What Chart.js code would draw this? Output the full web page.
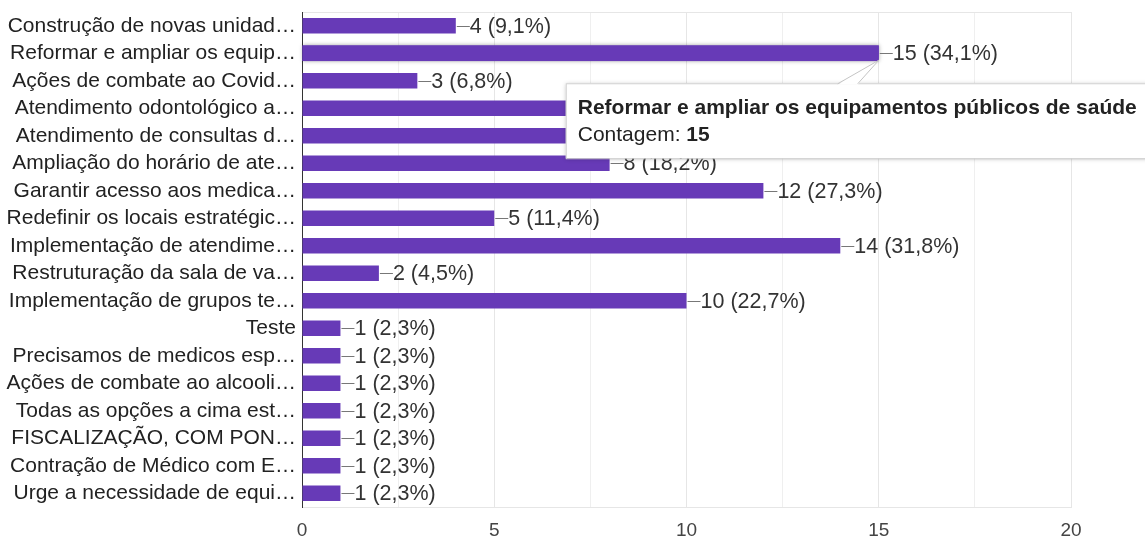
<!DOCTYPE html>
<html>
<head>
<meta charset="utf-8">
<script src="https://cdn.jsdelivr.net/npm/chart.js@4.4.1/dist/chart.umd.min.js"></script>
<style>
  html, body { margin: 0; padding: 0; background: #fff; }
  #wrap { width: 1145px; height: 539px; position: relative; }
</style>
</head>
<body>
<div id="wrap"><canvas id="chart"></canvas></div>
<script>
// ===== Data =====
const labels = [
    'Construção de novas unidad…',
    'Reformar e ampliar os equip…',
    'Ações de combate ao Covid…',
    'Atendimento odontológico a…',
    'Atendimento de consultas d…',
    'Ampliação do horário de ate…',
    'Garantir acesso aos medica…',
    'Redefinir os locais estratégic…',
    'Implementação de atendime…',
    'Restruturação da sala de va…',
    'Implementação de grupos te…',
    'Teste',
    'Precisamos de medicos esp…',
    'Ações de combate ao alcooli…',
    'Todas as opções a cima est…',
    'FISCALIZAÇÃO, COM PON…',
    'Contração de Médico com E…',
    'Urge a necessidade de equi…'
];
const counts = [4, 15, 3, 10, 9, 8, 12, 5, 14, 2, 10, 1, 1, 1, 1, 1, 1, 1];
const pcts = ['9,1', '34,1', '6,8', '22,7', '20,5', '18,2', '27,3', '11,4', '31,8', '4,5', '22,7',
              '2,3', '2,3', '2,3', '2,3', '2,3', '2,3', '2,3'];
const xTicks = [0, 5, 10, 15, 20];

const hoverIndex = 1;
const hoverTitle = 'Reformar e ampliar os equipamentos públicos de saúde';
const hoverLabel = 'Contagem: ';

const FONT = '"Liberation Sans", Arial, sans-serif';
const PURPLE = '#673ab7';

// value labels "—4 (9,1%)" at the end of each bar
const valueLabels = {
    id: 'valueLabels',
    afterDatasetsDraw(chart) {
        const ctx = chart.ctx;
        const meta = chart.getDatasetMeta(0);
        ctx.save();
        ctx.font = '21.5px ' + FONT;
        ctx.textBaseline = 'middle';
        meta.data.forEach((bar, i) => {
            ctx.strokeStyle = '#777';
            ctx.lineWidth = 1;
            ctx.beginPath();
            ctx.moveTo(bar.x + 1, Math.round(bar.y) + 0.5);
            ctx.lineTo(bar.x + 14, Math.round(bar.y) + 0.5);
            ctx.stroke();
            ctx.fillStyle = '#333';
            ctx.fillText(`${counts[i]} (${pcts[i]}%)`, bar.x + 14, bar.y + 1);
        });
        ctx.restore();
    }
};

// fixed hover card like the Google Forms summary
const hoverCard = {
    id: 'hoverCard',
    beforeDatasetsDraw(chart) {
        // soft shadow round the hovered bar
        const bar = chart.getDatasetMeta(0).data[hoverIndex];
        const ctx = chart.ctx;
        ctx.save();
        ctx.shadowColor = 'rgba(0,0,0,0.35)';
        ctx.shadowBlur = 4;
        ctx.fillStyle = PURPLE;
        ctx.fillRect(bar.base, bar.y - bar.height / 2, bar.x - bar.base, bar.height);
        ctx.restore();
    },
    afterDraw(chart) {
        const ctx = chart.ctx;
        const bar = chart.getDatasetMeta(0).data[hoverIndex];
        const bx = bar.x, by = bar.y;
        const left = bx - 313, top = by + 30, w = 620, h = 75;

        ctx.save();
        // box
        ctx.shadowColor = 'rgba(0,0,0,0.25)';
        ctx.shadowBlur = 4;
        ctx.shadowOffsetY = 1;
        ctx.fillStyle = '#fff';
        ctx.fillRect(left, top, w, h);
        ctx.shadowColor = 'transparent';
        ctx.strokeStyle = '#d0d0d0';
        ctx.lineWidth = 1;
        ctx.strokeRect(left + 0.5, top + 0.5, w, h);

        // caret
        ctx.fillStyle = '#fff';
        ctx.beginPath();
        ctx.moveTo(bx - 41, top + 1.5);
        ctx.lineTo(bx, by + 7);
        ctx.lineTo(bx - 21, top + 1.5);
        ctx.closePath();
        ctx.fill();
        ctx.strokeStyle = '#c4c4c4';
        ctx.beginPath();
        ctx.moveTo(bx - 41, top + 0.5);
        ctx.lineTo(bx, by + 7);
        ctx.lineTo(bx - 21, top + 0.5);
        ctx.stroke();

        // text
        ctx.fillStyle = '#222';
        ctx.textBaseline = 'middle';
        ctx.font = 'bold 21px ' + FONT;
        ctx.fillText(hoverTitle, left + 12, top + 25);
        ctx.font = '21px ' + FONT;
        ctx.fillText(hoverLabel, left + 12, top + 52);
        const lw = ctx.measureText(hoverLabel).width;
        ctx.font = 'bold 21px ' + FONT;
        ctx.fillText(String(counts[hoverIndex]), left + 12 + lw, top + 52);
        ctx.restore();
    }
};

new Chart(document.getElementById('chart'), {
    type: 'bar',
    data: {
        labels,
        datasets: [{
            data: counts,
            backgroundColor: PURPLE,
            barPercentage: 0.57,
            categoryPercentage: 1
        }]
    },
    options: {
        indexAxis: 'y',
        responsive: true,
        maintainAspectRatio: false,
        animation: false,
        layout: { padding: { top: 12, right: 74, left: 0, bottom: 0 } },
        plugins: { legend: { display: false }, tooltip: { enabled: false } },
        scales: {
            x: {
                type: 'linear',
                min: 0,
                max: 20,
                afterFit: s => { s.height = 32; s.paddingLeft = 0; s.paddingRight = 0; },
                ticks: {
                    stepSize: 2.5,
                    autoSkip: false,
                    maxRotation: 0,
                    padding: 12,
                    color: '#444',
                    font: { family: FONT, size: 19 },
                    callback: v => xTicks.includes(v) ? v : ''
                },
                grid: {
                    drawTicks: false,
                    color: c => c.tick && c.tick.value === 0 ? 'transparent'
                        : (c.tick && c.tick.value % 5 === 0 ? '#e6e6e6' : '#efefef')
                },
                border: { color: '#e6e6e6' }
            },
            y: {
                afterFit: s => { s.width = 302; s.paddingTop = 0; s.paddingBottom = 0; },
                ticks: {
                    padding: 6,
                    autoSkip: false,
                    color: '#222',
                    font: { family: FONT, size: 21 }
                },
                grid: {
                    offset: true,
                    drawTicks: false,
                    color: c => (c.type === 'tick' && c.index > 0) ? 'transparent' : '#e6e6e6'
                },
                border: { color: '#333' }
            }
        }
    },
    plugins: [valueLabels, hoverCard]
});
</script>
</body>
</html>
